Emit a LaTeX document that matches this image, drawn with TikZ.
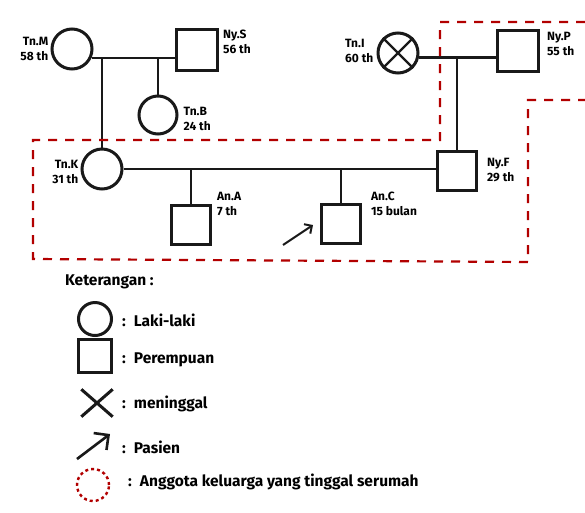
\documentclass[tikz,border=0pt]{standalone}
\usepackage{fontspec}
\setmainfont{Fira Sans}
\usepackage{tikz}
\usetikzlibrary{arrows.meta, positioning}

\begin{document}
\begin{tikzpicture}[
    x=1pt, y=-1pt,
    laki/.style={circle, draw=black!90, line width=3pt, minimum size=40pt, inner sep=0pt},
    perempuan/.style={rectangle, draw=black!90, line width=2.8pt, minimum size=39pt, inner sep=0pt},
    conn/.style={draw=black!90, line width=2.2pt},
    silang/.style={draw=black!90, line width=2.4pt},
    lbl/.style={font=\fontsize{12}{15}\selectfont\bfseries, align=left, inner sep=0pt},
    serumah/.style={draw=red!70!black, line width=2.2pt, dash pattern=on 9pt off 8pt},
    pasien/.style={draw=black!90, line width=2pt, -{Straight Barb[angle=90:8pt]}},
    ket/.style={font=\fontsize{15.5}{17}\selectfont\bfseries, anchor=west, inner sep=0pt}
]
    \fill[white] (0,0) rectangle (585,512);
    \useasboundingbox (0,0) rectangle (585,512);

    % Generasi I
    \node (tnM) at (72,49) [laki] {};
    \node (nyS) at (197,50) [perempuan, minimum size=41pt] {};
    \node (tnI) at (398,53) [laki] {};
    \node (nyP) at (518,51) [perempuan, minimum size=41pt] {};
    \draw [silang] (tnI.north west) -- (tnI.south east);
    \draw [silang] (tnI.north east) -- (tnI.south west);

    % Generasi II
    \node (tnB) at (158,115) [laki, minimum size=38pt] {};
    \node (tnK) at (102,169) [laki] {};
    \node (nyF) at (457,171) [perempuan] {};

    % Generasi III
    \node (anA) at (191,225) [perempuan] {};
    \node (anC) at (341,224) [perempuan] {};

    % Garis perkawinan dan keturunan
    \draw [conn] (tnM.-24) -- (tnM.-24 -| nyS.west);
    \draw [conn] (tnM.-24 -| tnK.north) -- (tnK.north);
    \draw [conn] (tnM.-24 -| tnB.north) -- (tnB.north);
    \draw [conn] (tnI.-12) -- (tnI.-12 -| nyP.west);
    \draw [conn] (tnI.-12 -| nyF.north) -- (nyF.north);
    \draw [conn] (tnK.east) -- (tnK.east -| nyF.west);
    \draw [conn] (tnK.east -| anA.north) -- (anA.north);
    \draw [conn] (tnK.east -| anC.north) -- (anC.north);

    % Pasien
    \coordinate (pTail) at (283,245);
    \coordinate (pHead) at (313,225);
    \draw [pasien] (pTail) -- (pHead);

    % Label nama dan umur
    \node [lbl, align=right, anchor=east] at ([xshift=-2pt]tnM.west) {Tn.M\\58 th};
    \node [lbl, anchor=north west] at ([xshift=4pt, yshift=-2pt]nyS.north east) {Ny.S\\56 th};
    \node [lbl, anchor=north west] at ([xshift=5pt, yshift=8pt]tnB.east) {Tn.B\\24 th};
    \node [lbl, align=right, anchor=north east] at ([xshift=-2pt, yshift=9pt]tnK.west) {Tn.K\\31 th};
    \node [lbl, anchor=north west] at ([xshift=5pt, yshift=12pt]anA.north east) {An.A\\7 th};
    \node [lbl, anchor=north west] at ([xshift=9pt, yshift=11pt]anC.north east) {An.C\\15 bulan};
    \node [lbl, anchor=north west] at ([xshift=9pt, yshift=-8pt]nyF.north east) {Ny.F\\29 th};
    \node [lbl, anchor=north east] at ([xshift=-3pt, yshift=14pt]tnI.west) {Tn.I\\60 th};
    \node [lbl, anchor=north west] at ([xshift=7pt, yshift=-3pt]nyP.north east) {Ny.P\\55 th};

    % Batas anggota keluarga serumah
    \draw [serumah] (585,22) -- (440,22) -- (440,140) -- (33,140) -- (33,259)
        -- (528,262) -- (528,100) -- (585,100);

    % Keterangan
    \node (ket) at (65,282) [anchor=west, inner sep=0pt, font=\fontsize{15.5}{17}\selectfont\bfseries] {Keterangan :};
    \node (lgLaki) at (95,319) [laki, minimum size=33pt] {};
    \node (lgPerempuan) at (95,356) [perempuan, minimum size=33pt] {};
    \node (lgMati) at (97,403) [minimum width=31pt, minimum height=27pt, inner sep=0pt] {};
    \draw [silang, line width=3pt] (lgMati.north west) -- (lgMati.south east);
    \draw [silang, line width=3pt] (lgMati.north east) -- (lgMati.south west);
    \coordinate (lgTail) at (77,459);
    \coordinate (lgHead) at (110,434);
    \draw [pasien, line width=2.6pt, -{Straight Barb[angle=90:15pt]}] (lgTail) -- (lgHead);
    \node (lgRumah) at (93,485) [circle, draw=red!70!black, line width=2.4pt, dash pattern=on 3pt off 3pt, minimum size=32pt] {};

    \node (tLaki) at (122,320) [ket] {:\hspace{8pt}Laki-laki};
    \node (tPerempuan) at (122,360) [ket] {:\hspace{8pt}Perempuan};
    \node (tMati) at (122,404) [ket] {:\hspace{8pt}meninggal};
    \node (tPasien) at (122,447) [ket] {:\hspace{8pt}Pasien};
    \node (tRumah) at (128,482) [ket] {:\hspace{8pt}Anggota keluarga yang tinggal serumah};

\end{tikzpicture}
\end{document}
